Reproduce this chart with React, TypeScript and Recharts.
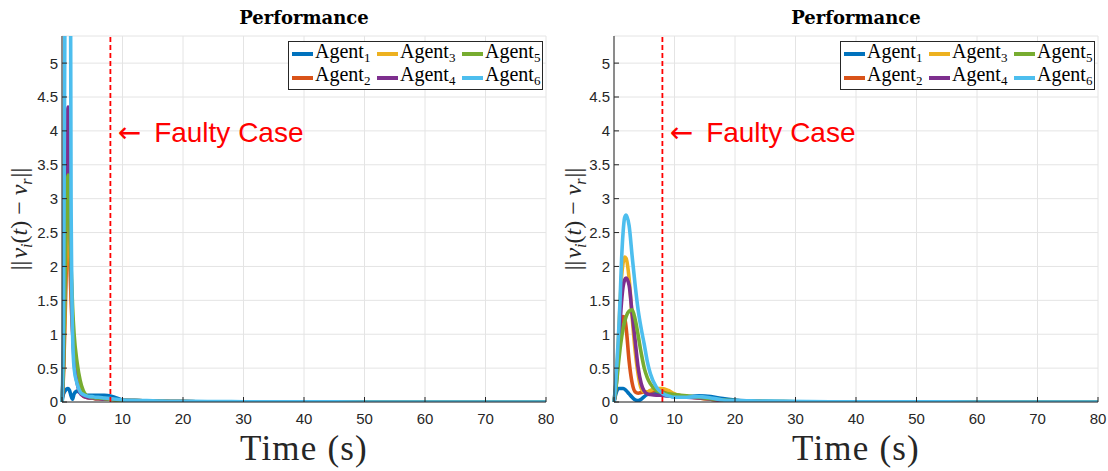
import React from 'react';
import {
  LineChart,
  Line,
  XAxis,
  YAxis,
  CartesianGrid,
  ReferenceLine,
  ReferenceDot,
  Legend,
} from 'recharts';

// ---------- data ----------
const time = [0, 0.25, 0.5, 0.75, 1, 1.25, 1.5, 1.75, 2, 2.5, 3, 3.5, 4, 4.5, 5, 5.5, 6, 7, 8, 9, 10, 12, 14, 16, 18, 20, 24, 28, 32, 40, 50, 60, 70, 80];

const agentIds = ['1', '2', '3', '4', '5', '6'];
const agentColors = ['#0072BD', '#D95319', '#EDB120', '#7E2F8E', '#77AC30', '#4DBEEE'];

// left panel (faulty case)
const faultyAgent1 = [0, 0.12, 0.16, 0.19, 0.2, 0.17, 0.09, 0.04, 0.12, 0.16, 0.14, 0.11, 0.1, 0.1, 0.1, 0.1, 0.1, 0.1, 0.09, 0.06, 0.03, 0.02, 0.015, 0.01, 0.008, 0.005, 0.003, 0.002, 0.001, 0, 0, 0, 0, 0];
const faultyAgent2 = [0, 0.4, 1.2, 2.1, 2.6, 2.2, 1.5, 1.05, 0.72, 0.35, 0.16, 0.09, 0.07, 0.06, 0.06, 0.05, 0.05, 0.04, 0.04, 0.03, 0.02, 0.02, 0.015, 0.01, 0.008, 0.005, 0.003, 0.002, 0.001, 0, 0, 0, 0, 0];
const faultyAgent3 = [0, 0.5, 1.5, 2.6, 2.95, 2.4, 1.7, 1.15, 0.8, 0.42, 0.2, 0.11, 0.08, 0.07, 0.06, 0.05, 0.05, 0.04, 0.04, 0.03, 0.02, 0.02, 0.015, 0.01, 0.008, 0.005, 0.003, 0.002, 0.001, 0, 0, 0, 0, 0];
const faultyAgent4 = [0, 0.6, 2.0, 3.7, 4.35, 3.3, 1.9, 1.05, 0.62, 0.28, 0.13, 0.09, 0.07, 0.06, 0.06, 0.05, 0.05, 0.04, 0.04, 0.03, 0.02, 0.02, 0.015, 0.01, 0.008, 0.005, 0.003, 0.002, 0.001, 0, 0, 0, 0, 0];
const faultyAgent5 = [0, 0.55, 1.8, 3.0, 3.35, 2.8, 2.0, 1.4, 1.0, 0.58, 0.32, 0.17, 0.1, 0.08, 0.07, 0.06, 0.06, 0.05, 0.04, 0.03, 0.02, 0.02, 0.015, 0.01, 0.008, 0.005, 0.003, 0.002, 0.001, 0, 0, 0, 0, 0];
const faultyAgent6 = [0, 1.2, 6, 16, 16, 12, 3, 1.0, 0.5, 0.27, 0.15, 0.11, 0.09, 0.08, 0.08, 0.07, 0.07, 0.06, 0.05, 0.04, 0.03, 0.025, 0.02, 0.015, 0.01, 0.01, 0.008, 0.005, 0.004, 0.002, 0.001, 0, 0, 0];

// right panel (normal case)
const normalAgent1 = [0, 0.1, 0.17, 0.2, 0.2, 0.2, 0.2, 0.19, 0.17, 0.12, 0.07, 0.03, 0.02, 0.04, 0.08, 0.11, 0.13, 0.12, 0.1, 0.09, 0.08, 0.08, 0.09, 0.08, 0.05, 0.03, 0.01, 0.005, 0.002, 0, 0, 0, 0, 0];
const normalAgent2 = [0, 0.2, 0.5, 0.8, 1.05, 1.2, 1.26, 1.24, 1.1, 0.6, 0.28, 0.15, 0.13, 0.14, 0.15, 0.15, 0.16, 0.17, 0.18, 0.15, 0.11, 0.08, 0.06, 0.04, 0.02, 0.01, 0.005, 0.002, 0.001, 0, 0, 0, 0, 0];
const normalAgent3 = [0, 0.2, 0.5, 0.95, 1.45, 1.85, 2.05, 2.14, 2.12, 1.82, 1.25, 0.75, 0.4, 0.2, 0.15, 0.15, 0.17, 0.2, 0.2, 0.17, 0.12, 0.08, 0.06, 0.04, 0.02, 0.01, 0.005, 0.002, 0.001, 0, 0, 0, 0, 0];
const normalAgent4 = [0, 0.15, 0.4, 0.75, 1.15, 1.48, 1.7, 1.8, 1.83, 1.72, 1.3, 0.9, 0.5, 0.27, 0.16, 0.12, 0.11, 0.1, 0.1, 0.09, 0.08, 0.07, 0.06, 0.04, 0.02, 0.01, 0.005, 0.002, 0.001, 0, 0, 0, 0, 0];
const normalAgent5 = [0, 0.15, 0.35, 0.58, 0.78, 0.95, 1.08, 1.18, 1.26, 1.34, 1.36, 1.22, 0.98, 0.72, 0.5, 0.36, 0.27, 0.17, 0.14, 0.12, 0.11, 0.09, 0.07, 0.05, 0.03, 0.02, 0.01, 0.005, 0.002, 0, 0, 0, 0, 0];
const normalAgent6 = [0, 0.25, 0.6, 1.0, 1.5, 2.1, 2.5, 2.72, 2.76, 2.6, 2.15, 1.72, 1.35, 1.08, 0.85, 0.6, 0.42, 0.22, 0.13, 0.09, 0.07, 0.07, 0.08, 0.06, 0.03, 0.02, 0.015, 0.01, 0.005, 0.003, 0.002, 0.001, 0, 0];

const xTicks = [0, 10, 20, 30, 40, 50, 60, 70, 80];
const yTicks = [0, 0.5, 1, 1.5, 2, 2.5, 3, 3.5, 4, 4.5, 5];
const xDomain = [0, 80];
const yDomain = [0, 5.4];
const faultTime = 8;
const annotationX = 9.2;
const annotationY = 4;
const titleText = 'Performance';
const xLabelText = 'Time (s)';
const annotationText = 'Faulty Case';

const buildRows = (series: number[][]) =>
  time.map((t, i) => {
    const row: Record<string, number> = { t };
    agentIds.forEach((id, k) => {
      row['a' + id] = series[k][i];
    });
    return row;
  });

const faultyRows = buildRows([faultyAgent1, faultyAgent2, faultyAgent3, faultyAgent4, faultyAgent5, faultyAgent6]);
const normalRows = buildRows([normalAgent1, normalAgent2, normalAgent3, normalAgent4, normalAgent5, normalAgent6]);

// ---------- styling helpers ----------
const AXIS = '#262626';
const GRID = '#e4e4e4';
const TICK_FONT = 'Liberation Sans, Arial, sans-serif';
const SERIF = 'Liberation Serif, Times New Roman, serif';

const XTick = (props: any) => {
  const { x, y, payload } = props;
  return (
    <g>
      <line x1={x} x2={x} y1={y} y2={y - 5} stroke={AXIS} strokeWidth={1} />
      <text x={x} y={y + 22} textAnchor="middle" fill={AXIS} fontSize={15} fontFamily={TICK_FONT}>
        {payload.value}
      </text>
    </g>
  );
};

const YTick = (props: any) => {
  const { x, y, payload } = props;
  return (
    <g>
      <line x1={x} x2={x + 5} y1={y} y2={y} stroke={AXIS} strokeWidth={1} />
      <text x={x - 4} y={y} dy="0.36em" textAnchor="end" fill={AXIS} fontSize={15} fontFamily={TICK_FONT}>
        {payload.value}
      </text>
    </g>
  );
};

const XLabel = (props: any) => {
  const vb = props.viewBox || { x: 0, y: 0, width: 0, height: 0 };
  return (
    <text
      x={vb.x + vb.width / 2}
      y={vb.y + 58}
      textAnchor="middle"
      fill={AXIS}
      fontSize={35}
      letterSpacing={1.2}
      fontFamily={SERIF}
    >
      {xLabelText}
    </text>
  );
};

const YLabel = (props: any) => {
  const vb = props.viewBox || { x: 0, y: 0, width: 0, height: 0 };
  const cx = vb.x + 20;
  const cy = vb.y + vb.height / 2;
  return (
    <text
      x={cx}
      y={cy}
      dy="0.3em"
      textAnchor="middle"
      fill={AXIS}
      fontSize={24}
      fontFamily={SERIF}
      transform={`rotate(-90 ${cx} ${cy})`}
    >
      <tspan>||</tspan>
      <tspan fontStyle="italic" dx={2}>v</tspan>
      <tspan fontStyle="italic" fontSize={16} dy={5}>i</tspan>
      <tspan dy={-5}>(</tspan>
      <tspan fontStyle="italic">t</tspan>
      <tspan>)</tspan>
      <tspan dx={6}>−</tspan>
      <tspan fontStyle="italic" dx={6}>v</tspan>
      <tspan fontStyle="italic" fontSize={16} dy={5}>r</tspan>
      <tspan dy={-5} dx={1}>||</tspan>
    </text>
  );
};

const Annotation = (props: any) => {
  const { cx, cy } = props;
  if (cx == null || cy == null) return null;
  return (
    <text x={cx} y={cy + 11} fill="#ff0000" fontSize={28}>
      <tspan fontFamily="DejaVu Sans, sans-serif">←</tspan>
      <tspan dx={13} fontFamily={TICK_FONT}>{annotationText}</tspan>
    </text>
  );
};

const renderLegend = (props: any) => {
  const payload = props.payload || [];
  return (
    <div
      style={{
        display: 'grid',
        gridTemplateRows: '24px 23px',
        gridAutoFlow: 'column',
        gridTemplateColumns: '85px 85px 80px',
        border: '1px solid ' + AXIS,
        background: '#fff',
        paddingLeft: 3,
        boxSizing: 'border-box',
        width: 255,
        height: 49,
        fontFamily: SERIF,
        fontSize: 20,
        color: '#000',
      }}
    >
      {payload.map((entry: any) => {
        const m = String(entry.value).match(/^(\D+)(\d+)$/);
        const base = m ? m[1] : String(entry.value);
        const sub = m ? m[2] : '';
        return (
          <div key={String(entry.value)} style={{ display: 'flex', alignItems: 'center', whiteSpace: 'nowrap' }}>
            <span style={{ display: 'inline-block', width: 21, height: 4, background: entry.color, marginRight: 2 }} />
            <span style={{ lineHeight: '20px' }}>
              {base}
              <span style={{ fontSize: 13, verticalAlign: -4 }}>{sub}</span>
            </span>
          </div>
        );
      })}
    </div>
  );
};

type PanelProps = {
  rows: Record<string, number>[];
  left: number;
  yAxisWidth: number;
  marginRight: number;
};

const CHART_W = 554;
const CHART_H = 471;
const TOP = 36;
const X_AXIS_H = 69;

const Panel = ({ rows, left, yAxisWidth, marginRight }: PanelProps) => {
  const plotW = CHART_W - yAxisWidth - marginRight;
  return (
    <div style={{ position: 'absolute', left, top: 0, width: CHART_W, height: CHART_H }}>
      <LineChart
        width={CHART_W}
        height={CHART_H}
        data={rows}
        margin={{ top: TOP, right: marginRight, bottom: 0, left: 0 }}
      >
        <CartesianGrid stroke={GRID} strokeWidth={1} vertical horizontal />
        <XAxis
          dataKey="t"
          type="number"
          domain={xDomain}
          ticks={xTicks}
          height={X_AXIS_H}
          tickSize={0}
          tickMargin={0}
          tickLine={false}
          tick={<XTick />}
          axisLine={{ stroke: AXIS, strokeWidth: 1 }}
          label={<XLabel />}
          interval={0}
        />
        <YAxis
          type="number"
          domain={yDomain}
          ticks={yTicks}
          allowDataOverflow
          width={yAxisWidth}
          tickSize={0}
          tickMargin={0}
          tickLine={false}
          tick={<YTick />}
          axisLine={{ stroke: AXIS, strokeWidth: 1 }}
          label={<YLabel />}
          interval={0}
        />
        {agentIds.map((id, k) => (
          <Line
            key={id}
            type="monotone"
            dataKey={'a' + id}
            name={'Agent' + id}
            stroke={agentColors[k]}
            strokeWidth={3.6}
            dot={false}
            activeDot={false}
            isAnimationActive={false}
          />
        ))}
        <ReferenceLine x={faultTime} stroke="#ff0000" strokeWidth={1.8} strokeDasharray="5 3" />
        <ReferenceDot x={annotationX} y={annotationY} r={1} shape={<Annotation />} />
        <Legend
          verticalAlign="middle"
          layout="horizontal"
          content={renderLegend}
          wrapperStyle={{ left: yAxisWidth + 226, top: 41, width: 255, height: 49 }}
        />
      </LineChart>
      <div
        style={{
          position: 'absolute',
          left: yAxisWidth,
          width: plotW,
          top: 9,
          textAlign: 'center',
          fontFamily: 'DejaVu Serif, serif',
          fontWeight: 'bold',
          fontSize: 18,
          lineHeight: '18px',
          color: '#000',
        }}
      >
        {titleText}
      </div>
    </div>
  );
}

export default function App() {
  return (
    <div style={{ position: 'absolute', left: 0, top: 0, width: 1108, height: 471, background: '#fff' }}>
      <Panel rows={faultyRows} left={0} yAxisWidth={62} marginRight={8} />
      <Panel rows={normalRows} left={554} yAxisWidth={60} marginRight={10} />
    </div>
  );
}
